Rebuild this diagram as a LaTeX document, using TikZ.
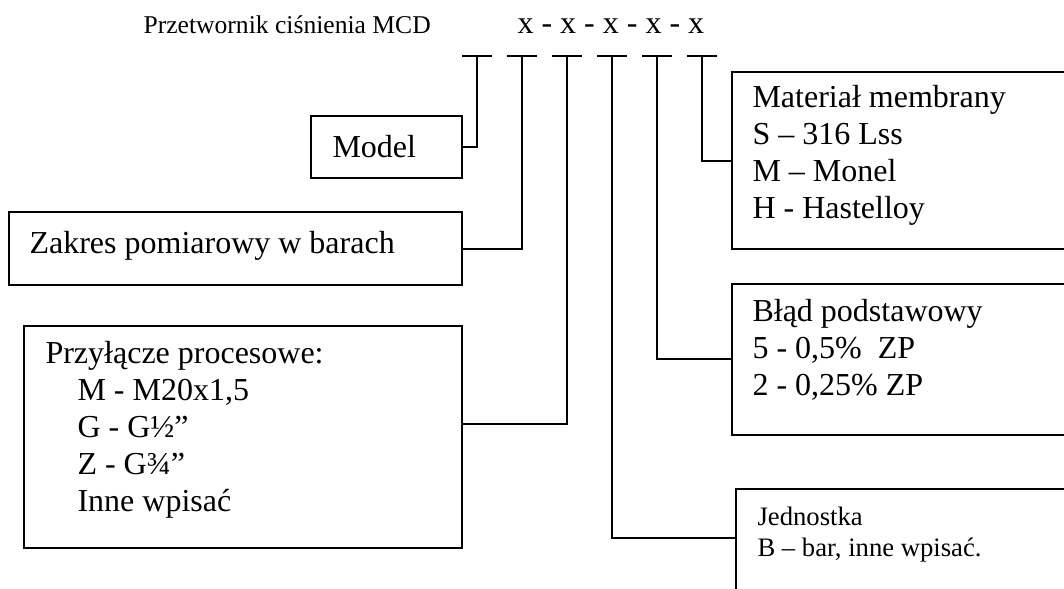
\documentclass[tikz,border=0pt]{standalone}
\usepackage{fontspec}
\setmainfont{Liberation Serif}

\begin{document}
\begin{tikzpicture}[
  x=0.375pt, y=-0.375pt,
  box/.style={draw, line width=0.75pt, inner sep=0pt, outer sep=0pt, anchor=north west},
  txt/.style={inner sep=0pt, anchor=base west, align=left, font=\fontsize{12}{13.8}\selectfont},
  smalltxt/.style={txt, font=\fontsize{10}{11.6}\selectfont},
  link/.style={line width=0.75pt}
]
\useasboundingbox (0,0) rectangle (1064,589);
\clip (0,0) rectangle (1064,589);

% naglowek
\node[txt, font=\fontsize{9.6}{11}\selectfont] (tytul) at (143,33) {Przetwornik ciśnienia MCD};
\node[txt] (kod) at (517,33) {x - x - x - x - x};

% znaczniki pozycji kodu
\foreach \i/\x in {1/477, 2/522, 3/567, 4/612, 5/657, 6/702} {
  \coordinate (t\i) at (\x,56);
  \draw[link] (t\i) ++(-15,0) -- ++(30,0);
}

% pola opisu
\node[box, minimum width=56.6pt,  minimum height=23.25pt] (model)  at (311,116) {};
\node[box, minimum width=169.9pt, minimum height=27.4pt]  (zakres) at (9,212)   {};
\node[box, minimum width=164.25pt,minimum height=83.25pt] (prz)    at (24,326)  {};
\node[box, minimum width=126.75pt,minimum height=66.4pt]  (mat)    at (732,72)  {};
\node[box, minimum width=126.75pt,minimum height=56.6pt]  (blad)   at (732,284) {};
\node[box, minimum width=125.25pt,minimum height=41.6pt]  (jedn)   at (736,489) {};

% teksty (kotwica = linia bazowa ostatniego wiersza)
\node[txt] (modelt)  at (332,157) {Model};
\node[txt] (zakrest) at (29,253)  {Zakres pomiarowy w barach};
\node[txt] (przt)    at (45,511)  {Przyłącze procesowe:\\
  \hspace*{12pt}M - M20x1,5\\
  \hspace*{12pt}G - G½”\\
  \hspace*{12pt}Z - G¾”\\
  \hspace*{12pt}Inne wpisać};
\node[txt] (matt)    at (752,218) {Materiał membrany\\S – 316 Lss\\M – Monel\\H - Hastelloy};
\node[txt] (bladt)   at (752,395) {Błąd podstawowy\\5 - 0,5\%\ \ ZP\\2 - 0,25\% ZP};
\node[smalltxt] (jednt) at (757,556) {Jednostka\\B – bar, inne wpisać.};

% polaczenia
\draw[link] (t1) |- (model.east);
\draw[link] (t2) |- (zakres.east);
\draw[link] (t3) |- ([yshift=4.9pt]prz.east);
\draw[link] (t4) |- ([yshift=2.4pt]jedn.west);
\draw[link] (t5) |- (blad.west);
\draw[link] (t6) |- (mat.west);
\end{tikzpicture}
\end{document}
